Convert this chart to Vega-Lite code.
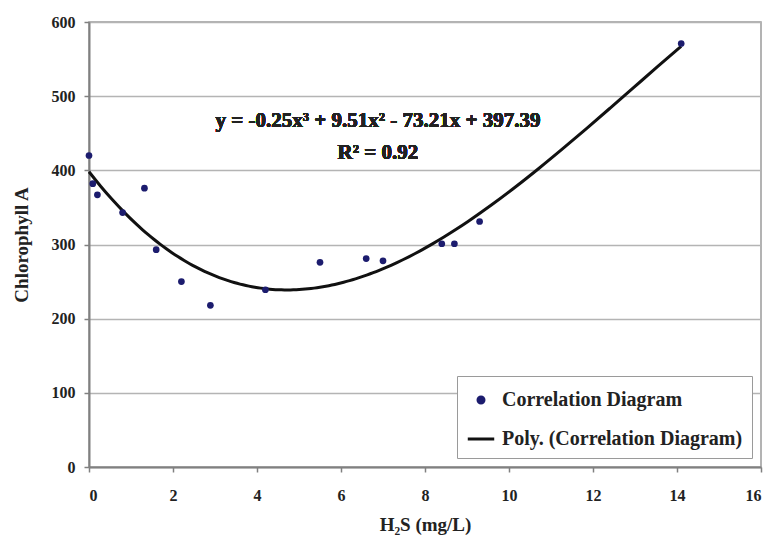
{
  "$schema": "https://vega.github.io/schema/vega-lite/v6.json",
  "width": 672,
  "height": 445,
  "autosize": {"type": "none"},
  "padding": {"left": 89, "top": 22, "right": 11, "bottom": 73},
  "background": "white",
  "config": {
    "font": "Liberation Serif",
    "view": {"stroke": "#9a9a9a", "strokeWidth": 1.5},
    "axis": {
      "labelFont": "Liberation Serif",
      "titleFont": "Liberation Serif",
      "labelFontWeight": "bold",
      "titleFontWeight": "bold",
      "labelColor": "#222",
      "titleColor": "#222",
      "labelFontSize": 16,
      "titleFontSize": 19,
      "domainColor": "#808080",
      "domainWidth": 2,
      "tickColor": "#808080",
      "tickWidth": 1.5,
      "gridColor": "#b4b4b4",
      "gridWidth": 1.5
    }
  },
  "data": {
    "values": [
      {"h2s": 0.0, "chl": 420},
      {"h2s": 0.09, "chl": 382},
      {"h2s": 0.2, "chl": 367},
      {"h2s": 0.8, "chl": 343},
      {"h2s": 1.32, "chl": 376},
      {"h2s": 1.6, "chl": 293},
      {"h2s": 2.2, "chl": 250},
      {"h2s": 2.89, "chl": 218},
      {"h2s": 4.2, "chl": 239},
      {"h2s": 5.5, "chl": 276},
      {"h2s": 6.6, "chl": 281},
      {"h2s": 7.0, "chl": 278},
      {"h2s": 8.4, "chl": 301},
      {"h2s": 8.7, "chl": 301},
      {"h2s": 9.3, "chl": 331},
      {"h2s": 14.1, "chl": 571}
    ]
  },
  "encoding": {
    "x": {
      "field": "h2s",
      "type": "quantitative",
      "scale": {"domain": [0, 16], "nice": false, "zero": false},
      "axis": {
        "title": "H₂S (mg/L)",
        "values": [0, 2, 4, 6, 8, 10, 12, 14, 16],
        "grid": false,
        "tickSize": 5,
        "labelPadding": 15,
        "titlePadding": 12
      }
    },
    "y": {
      "field": "chl",
      "type": "quantitative",
      "scale": {"domain": [0, 600], "nice": false},
      "axis": {
        "title": "Chlorophyll A",
        "values": [0, 100, 200, 300, 400, 500, 600],
        "tickSize": 5,
        "labelPadding": 9,
        "titlePadding": 20
      }
    }
  },
  "layer": [
    {
      "transform": [
        {"regression": "chl", "on": "h2s", "method": "poly", "order": 3}
      ],
      "mark": {"type": "line", "strokeWidth": 3, "interpolate": "monotone"},
      "encoding": {
        "color": {
          "datum": "Poly. (Correlation Diagram)",
          "type": "nominal",
          "scale": {
            "domain": ["Correlation Diagram", "Poly. (Correlation Diagram)"],
            "range": ["#1c1c6e", "#111111"]
          },
          "legend": {
            "title": null,
            "orient": "bottom-right",
            "offset": 9,
            "padding": 9,
            "strokeColor": "#9a9a9a",
            "fillColor": "white",
            "labelFont": "Liberation Serif",
            "labelFontWeight": "bold",
            "labelFontSize": 20,
            "labelLimit": 500,
            "labelColor": "#222",
            "rowPadding": 14,
            "symbolSize": 300,
            "labelOffset": 6,
            "encode": {
              "symbols": {
                "update": {
                  "shape": {"signal": "datum.value === 'Correlation Diagram' ? 'circle' : 'stroke'"},
                  "size": {"signal": "datum.value === 'Correlation Diagram' ? 36 : 700"},
                  "fill": {"signal": "datum.value === 'Correlation Diagram' ? '#1c1c6e' : 'transparent'"},
                  "stroke": {"signal": "datum.value === 'Correlation Diagram' ? 'transparent' : '#111111'"},
                  "strokeWidth": {"value": 3},
                  "opacity": {"value": 1}
                }
              }
            }
          }
        }
      }
    },
    {
      "mark": {"type": "point", "filled": true, "size": 45, "opacity": 1},
      "encoding": {
        "color": {"datum": "Correlation Diagram", "type": "nominal"}
      }
    },
    {
      "mark": {"type": "text", "font": "Liberation Serif", "fontWeight": "bold", "fontSize": 21, "color": "#222"},
      "encoding": {
        "x": {"datum": 6.88},
        "y": {"datum": 466},
        "text": {"value": "y = -0.25x³ + 9.51x² - 73.21x + 397.39"}
      }
    },
    {
      "mark": {"type": "text", "font": "Liberation Serif", "fontWeight": "bold", "fontSize": 21, "color": "#222"},
      "encoding": {
        "x": {"datum": 6.88},
        "y": {"datum": 424},
        "text": {"value": "R² = 0.92"}
      }
    }
  ]
}
